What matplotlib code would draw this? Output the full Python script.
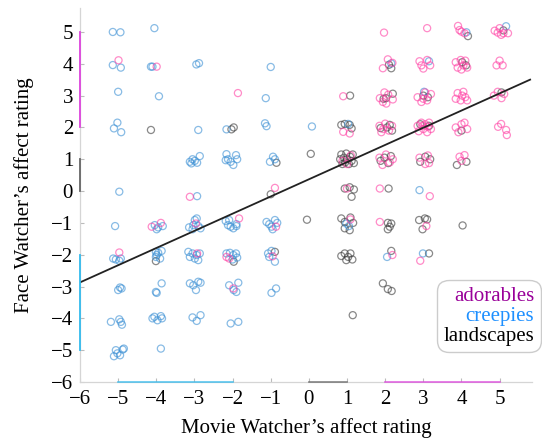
#Face vs Movie watcher affect ratings, one colour per stimulus category

#import necessary libraries
import numpy as np
import matplotlib
matplotlib.use('Agg')
import matplotlib.pyplot as plt

# --- data (jittered rating pairs) ---
# (movie watcher rating, face watcher rating)
adorables_pts = [
    (-4.99, 4.11), (-4.97, -1.93), (-3.99, 3.91), (-4.12, -1.12), (-3.88, -1.0),
    (-3.12, -0.18), (-2.96, -1.02), (-2.93, -1.96), (-1.86, 3.08), (-1.83, -0.86),
    (-2.16, -2.07), (-2.09, -2.12), (-1.98, -3.06), (-0.89, 0.1), (-0.86, -1.12),
    (-0.95, -2.05),
    (0.9, 2.98), (0.9, 1.86), (1.07, 1.81), (0.88, 0.95), (1.1, 1.12), (1.0, 0.85),
    (1.0, 0.08), (1.09, -0.89),
    (1.97, 4.98), (2.07, 4.14), (1.94, 3.86), (2.19, 4.03),
    (1.86, 2.92), (1.94, 2.8), (2.03, 2.75), (2.08, 3.03), (2.2, 2.88), (1.98, 3.1),
    (1.85, 2.05), (1.9, 1.85), (2.0, 2.12), (2.1, 1.9), (2.18, 2.05), (1.95, 1.95),
    (1.85, 1.05), (1.93, 0.82), (2.02, 1.15), (2.12, 0.9), (2.2, 1.0),
    (1.86, 0.08), (1.86, -0.97), (2.19, -2.01),
    (3.1, 5.12), (2.9, 4.08), (3.0, 3.85), (3.1, 4.12), (3.18, 3.95), (2.95, 3.95),
    (2.85, 2.95), (2.95, 2.8), (3.05, 3.1), (3.1, 2.85), (3.2, 3.05), (3.0, 2.9),
    (2.85, 2.05), (2.88, 1.88), (2.95, 2.15), (3.0, 1.95), (3.05, 2.1), (3.1, 1.85),
    (3.12, 2.02), (3.2, 1.95), (2.98, 2.05), (3.15, 2.15),
    (2.9, 1.05), (3.05, 0.85), (3.12, 1.12), (3.15, 0.88),
    (3.17, -0.16), (3.08, -1.1), (2.92, -2.19),
    (3.91, 5.19), (3.95, 5.06), (4.0, 5.01), (4.08, 4.96),
    (3.85, 4.05), (3.9, 3.88), (3.98, 4.12), (4.05, 3.95), (4.1, 4.1), (4.15, 3.88), (4.0, 3.82),
    (3.85, 2.9), (3.9, 3.08), (3.98, 2.85), (4.05, 3.12), (4.1, 2.95), (4.15, 2.85), (4.02, 3.0),
    (3.85, 2.0), (3.92, 1.85), (4.0, 2.1), (4.08, 2.15), (4.15, 1.95),
    (3.95, 1.08), (4.08, 1.13), (4.0, 0.95),
    (4.87, 5.04), (5.0, 5.12), (5.1, 4.96), (5.22, 4.96), (5.04, 4.91), (4.95, 4.98),
    (4.92, 3.95), (5.0, 4.1), (5.08, 3.95),
    (4.85, 3.0), (4.95, 3.12), (5.05, 2.92), (5.12, 3.05),
    (4.96, 2.02), (5.04, 2.11), (5.17, 1.92), (5.19, 1.76),
]

creepies_pts = [
    (-5.14, 5.0), (-4.94, 4.99), (-5.14, 3.96), (-4.93, 3.88), (-5.0, 3.12),
    (-5.02, 2.15), (-5.11, 1.97), (-4.92, 1.85), (-4.97, -0.02), (-5.08, -1.1),
    (-5.13, -2.12), (-5.06, -2.15), (-4.97, -2.19), (-4.93, -2.12),
    (-5.0, -3.11), (-4.95, -3.03), (-4.91, -3.06),
    (-5.19, -4.11), (-4.97, -4.03), (-4.93, -4.11), (-4.9, -4.2),
    (-5.06, -5.0), (-5.02, -5.1), (-5.11, -5.19), (-4.95, -5.16), (-4.88, -4.98), (-4.85, -4.95),
    (-4.05, 5.12), (-4.14, 3.91), (-4.1, 3.91), (-3.93, 2.98),
    (-4.04, -1.07), (-3.95, -1.14), (-3.83, -1.1), (-3.99, -1.2),
    (-4.01, -1.91), (-3.95, -1.94), (-3.86, -1.88), (-4.01, -2.07), (-3.9, -2.12), (-3.99, -2.01),
    (-4.01, -3.17), (-3.99, -3.2), (-3.86, -2.9),
    (-4.1, -4.0), (-4.05, -3.95), (-3.97, -4.06), (-3.88, -3.93), (-3.85, -4.0),
    (-3.88, -4.95),
    (-2.95, 3.98), (-2.88, 4.02), (-2.9, 1.92),
    (-3.12, 0.92), (-3.05, 1.0), (-2.99, 0.95), (-2.93, 0.89), (-2.86, 1.1), (-3.08, 0.87),
    (-2.93, -0.16),
    (-3.14, -1.14), (-3.03, -1.07), (-2.99, -0.91), (-2.94, -0.86), (-2.9, -1.1), (-2.84, -1.17), (-3.05, -1.2),
    (-3.16, -1.91), (-3.12, -2.07), (-3.05, -1.96), (-2.99, -2.12), (-2.94, -2.01), (-2.9, -2.17), (-2.86, -1.96),
    (-3.12, -2.9), (-3.03, -2.96), (-2.96, -3.11), (-2.9, -2.85), (-2.84, -2.88),
    (-3.05, -3.97), (-2.94, -4.08), (-2.84, -3.9),
    (-2.16, 1.94),
    (-2.16, 1.16), (-2.12, 1.0), (-2.05, 0.92), (-1.98, 0.82), (-1.91, 1.13), (-2.18, 0.97), (-1.88, 1.0),
    (-2.18, -0.94), (-2.12, -1.07), (-2.05, -1.12), (-1.98, -1.17), (-1.9, -1.04), (-2.09, -0.91), (-1.9, -1.1),
    (-2.16, -1.96), (-2.07, -1.94), (-1.98, -2.01), (-1.91, -1.96), (-1.88, -2.09), (-2.0, -2.15),
    (-2.09, -2.96), (-1.97, -3.11), (-1.9, -3.17), (-1.85, -2.88),
    (-2.05, -4.16), (-1.85, -4.11),
    (-1.0, 3.9), (-1.13, 2.92), (-1.15, 2.13), (-1.11, 2.04),
    (-1.02, 0.92), (-0.94, 1.08), (-0.89, 1.0),
    (-1.11, -0.97), (-1.04, -1.04), (-0.98, -1.12), (-0.89, -0.91), (-0.83, -1.0), (-0.95, -1.2),
    (-1.07, -1.96), (-0.98, -1.88), (-0.89, -2.22), (-1.04, -2.07),
    (-0.98, -3.2), (-0.86, -3.06),
    (0.08, 2.03),
    (1.03, 2.11), (0.98, -1.02), (1.05, -1.1), (2.16, 4.01), (2.05, -2.07),
    (3.15, 4.08), (3.02, 3.12), (2.9, 0.03), (2.99, -1.96), (4.13, 4.99), (5.17, 5.18),
]

landscapes_pts = [
    (-4.14, 1.92), (-4.01, -2.2), (-2.03, 1.94), (-1.97, 2.0), (-1.97, -2.22),
    (-0.85, 0.89), (-1.0, -0.1), (-0.89, -1.91), (0.05, 1.17), (-0.05, -0.9),
    (1.08, 3.0),
    (0.85, 2.08), (0.94, 2.11), (1.07, 2.08), (1.12, 1.97),
    (0.82, 1.0), (0.85, 1.15), (0.88, 0.85), (0.92, 1.05), (0.95, 0.9), (0.98, 1.18),
    (1.0, 1.0), (1.05, 0.85), (1.08, 1.08), (1.12, 0.95), (1.15, 1.15), (1.18, 0.88),
    (0.94, 0.08), (1.07, 0.12), (1.18, 0.05), (1.12, -0.18),
    (0.85, -0.86), (0.94, -0.97), (1.09, -0.83), (1.16, -1.0), (0.94, -1.17), (1.07, -1.23),
    (0.85, -2.04), (0.94, -1.96), (1.03, -2.07), (1.09, -1.96), (1.14, -2.15), (0.98, -2.17),
    (1.15, -3.9),
    (2.16, 3.86), (2.1, 3.97),
    (2.2, 3.06), (2.02, 2.92), (1.96, 2.9),
    (1.88, 1.98), (2.05, 2.0), (2.12, 2.08), (2.18, 1.9),
    (1.88, 0.95), (1.98, 1.05), (2.08, 0.88), (2.15, 1.1),
    (2.09, 0.08),
    (2.07, -1.0), (2.16, -1.02), (2.12, -1.12), (2.07, -1.2),
    (2.16, -1.88),
    (1.94, -2.9), (2.07, -3.08), (2.17, -3.14),
    (3.0, 3.0), (3.12, 2.95), (2.92, 2.1), (3.15, 2.05),
    (2.92, 0.92), (3.05, 1.08), (3.18, 1.0),
    (2.89, -0.91), (3.04, -0.86), (3.1, -0.89), (2.98, -1.2),
    (3.15, -1.96),
    (4.17, 4.87), (4.02, 4.05), (4.12, 3.95), (4.0, 1.9),
    (4.13, 0.92), (3.88, 0.82), (4.03, -1.08),
    (5.1, 5.05), (5.05, 3.1),
]

# rating range covered by each category's stimuli (marked on the axes)
adorables_range = (2, 5)
creepies_range = (-5, -2)
landscapes_range = (0, 1)

# regression line
fit_slope = 0.54
fit_intercept = 0.37

tick_values = list(range(-6, 6))

# --- plotting ---
plt.rcParams['font.family'] = ['Liberation Serif', 'DejaVu Serif']
plt.rcParams['font.size'] = 15

fig = plt.figure(figsize=(5.42, 4.43), dpi=100)
ax = fig.add_axes([0.1476, 0.1377, 0.834, 0.844])

point_colors = {'adorables': '#ff3fa4', 'creepies': '#3a8fd4', 'landscapes': '#3a3a3a'}
for name, pts in [('landscapes', landscapes_pts), ('creepies', creepies_pts),
                  ('adorables', adorables_pts)]:
    pts = np.array(pts)
    ax.scatter(pts[:, 0], pts[:, 1], s=26, facecolors='none',
               edgecolors=point_colors[name], linewidths=0.9, alpha=0.6, zorder=3)

# trend line
xs = np.array([-6, 5.8])
ax.plot(xs, fit_slope * xs + fit_intercept, color='#222222', linewidth=1.3, zorder=4)

ax.set_xlim(-6, 5.85)
ax.set_ylim(-6, 5.75)
ax.set_xticks(tick_values)
ax.set_yticks(tick_values)
ax.tick_params(direction='in', length=3, color='#bbbbbb', labelsize=15)
ax.tick_params(axis='x', pad=6)
ax.tick_params(axis='y', pad=5)

for side in ['top', 'right']:
    ax.spines[side].set_visible(False)
for side in ['left', 'bottom']:
    ax.spines[side].set_color('#d5d5d5')
    ax.spines[side].set_linewidth(0.9)

# coloured ranges on the axes
range_colors = [('#dd44dd', adorables_range), ('#33bbee', creepies_range),
                ('#666666', landscapes_range)]
for c, (lo, hi) in range_colors:
    ax.plot([lo, hi], [-6, -6], color=c, linewidth=1.2, clip_on=False, zorder=5, alpha=0.8)
    ax.plot([-6, -6], [lo, hi], color=c, linewidth=1.3, clip_on=False, zorder=5)

ax.set_xlabel('Movie Watcher’s affect rating', fontsize=15, labelpad=6)
ax.set_ylabel('Face Watcher’s affect rating', fontsize=15, labelpad=12)

# legend: coloured words only, right aligned in a rounded box
handles = [plt.Line2D([], [], linestyle='none') for _ in range(3)]
leg = ax.legend(handles, ['adorables', 'creepies', 'landscapes'],
                loc='lower right', bbox_to_anchor=(1.042, 0.053),
                handlelength=0, handletextpad=0, markerfirst=False,
                labelcolor=['#990099', '#1e90ff', 'black'], fontsize=15,
                labelspacing=0.02, borderpad=0.3, fancybox=True,
                edgecolor='#cccccc', framealpha=1)
leg.get_frame().set_linewidth(1.0)
leg.get_frame().set_boxstyle('round', pad=0, rounding_size=0.55)

fig.savefig('out.png', dpi=100)
